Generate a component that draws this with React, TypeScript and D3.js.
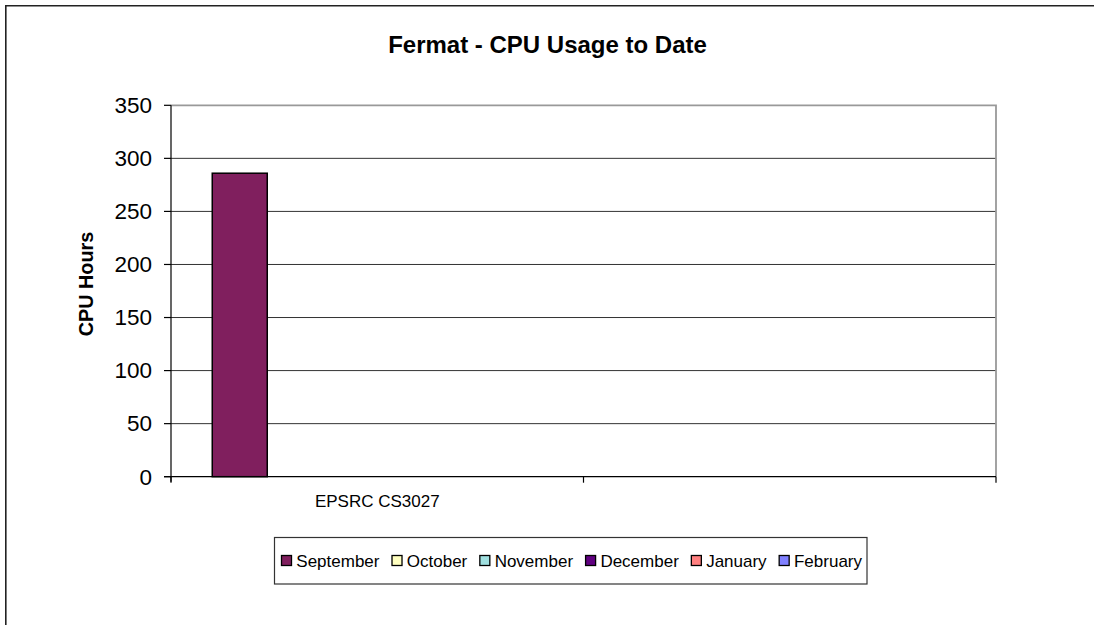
import React, { useEffect, useRef } from "react";
import * as d3 from "d3";

const categories = ["EPSRC CS3027", ""];
const seriesNames = ["September", "October", "November", "December", "January", "February"];
const seriesColors = ["#801F5E", "#FFFFC0", "#A0E0E0", "#600080", "#FF8080", "#8080FF"];
const september = [286, 0];
const october = [0, 0];
const november = [0, 0];
const december = [0, 0];
const january = [0, 0];
const february = [0, 0];
const seriesValues = [september, october, november, december, january, february];
const yTicks = [0, 50, 100, 150, 200, 250, 300, 350];

const W = 1094;
const H = 625;
const FONT = "'Liberation Sans', Arial, Helvetica, sans-serif";

export default function App() {
  const ref = useRef<SVGSVGElement | null>(null);

  useEffect(() => {
    const svg = d3.select(ref.current);
    svg.selectAll("*").remove();

    // outer chart border (continues off page right/bottom)
    svg.append("path").attr("d", `M5.8,${H + 10}V5.8H${W + 10}`)
      .attr("fill", "none").attr("stroke", "#222").attr("stroke-width", 1.6);

    const left = 171, right = 996, top = 105.3, bottom = 476.7;
    const y = d3.scaleLinear().domain([0, 350]).range([bottom, top]);
    const x = d3.scaleBand<string>().domain(categories.map((c, i) => i + "")).range([left, right]).paddingInner(0).paddingOuter(0);
    const bw = x.bandwidth() / (seriesNames.length + 1.5);

    // gridlines
    svg.append("g").selectAll("line").data(yTicks.filter((t) => t > 0 && t < 350)).join("line")
      .attr("x1", left).attr("x2", right).attr("y1", (d) => y(d)).attr("y2", (d) => y(d))
      .attr("stroke", "#333").attr("stroke-width", 1);

    // plot area border top/right
    svg.append("path").attr("d", `M${left},${top}H${right}V${bottom}`)
      .attr("fill", "none").attr("stroke", "#999").attr("stroke-width", 1.8);

    // bars
    seriesValues.forEach((vals, si) => {
      svg.append("g").selectAll("rect").data(vals.map((v, ci) => ({ v, ci }))).join("rect")
        .filter((d) => d.v > 0)
        .attr("x", (d) => (x(d.ci + "") as number) + 0.75 * bw + si * bw)
        .attr("width", bw)
        .attr("y", (d) => y(d.v))
        .attr("height", (d) => y(0) - y(d.v))
        .attr("fill", seriesColors[si]).attr("stroke", "#000").attr("stroke-width", 1.5);
    });

    // axes
    svg.append("line").attr("x1", left).attr("x2", left).attr("y1", top).attr("y2", bottom + 5)
      .attr("stroke", "#000").attr("stroke-width", 1.2);
    svg.append("line").attr("x1", left - 7).attr("x2", right).attr("y1", bottom).attr("y2", bottom)
      .attr("stroke", "#000").attr("stroke-width", 1.2);
    svg.append("g").selectAll("line").data(yTicks).join("line")
      .attr("x1", left - 7).attr("x2", left).attr("y1", (d) => y(d)).attr("y2", (d) => y(d))
      .attr("stroke", "#000").attr("stroke-width", 1.2);
    const bounds = categories.map((_, i) => x(i + "") as number).concat([right]);
    svg.append("g").selectAll("line").data(bounds).join("line")
      .attr("x1", (d) => d).attr("x2", (d) => d).attr("y1", bottom).attr("y2", bottom + 6)
      .attr("stroke", "#000").attr("stroke-width", 1.2);

    svg.append("g").selectAll("text").data(yTicks).join("text")
      .attr("x", 152).attr("y", (d) => y(d) + 7.8)
      .attr("text-anchor", "end").attr("font-family", FONT).attr("font-size", 22.5)
      .text((d) => d);

    svg.append("g").selectAll("text").data(categories.map((c, i) => ({ c, i }))).join("text")
      .attr("x", (d) => (x(d.i + "") as number) + x.bandwidth() / 2).attr("y", 507.3)
      .attr("text-anchor", "middle").attr("font-family", FONT).attr("font-size", 17)
      .text((d) => d.c);

    // title
    svg.append("text").attr("x", 547.5).attr("y", 53.3).attr("text-anchor", "middle")
      .attr("font-family", FONT).attr("font-size", 24).attr("font-weight", "bold")
      .text("Fermat - CPU Usage to Date");

    // y label
    svg.append("text").attr("transform", "translate(93.3,284) rotate(-90)").attr("text-anchor", "middle")
      .attr("font-family", FONT).attr("font-size", 19.8).attr("font-weight", "bold")
      .text("CPU Hours");

    // legend
    svg.append("rect").attr("x", 274.5).attr("y", 537.5).attr("width", 592.5).attr("height", 46.5)
      .attr("fill", "white").attr("stroke", "#333").attr("stroke-width", 1.2);
    const lg = svg.append("g");
    const texts = seriesNames.map((n) =>
      lg.append("text").attr("font-family", FONT).attr("font-size", 17).attr("y", 567.3).text(n)
    );
    const widths = texts.map((t) => (t.node() as SVGTextElement).getComputedTextLength());
    const sw = 11, sgap = 4.3;
    const startX = 281, endX = 862;
    const total = widths.reduce((a, b) => a + b, 0) + seriesNames.length * (sw + sgap);
    const gap = (endX - startX - total) / (seriesNames.length - 1);
    let cx = startX;
    seriesNames.forEach((n, i) => {
      lg.append("rect").attr("x", cx + 0.5).attr("y", 555.5).attr("width", sw - 1).attr("height", sw - 1)
        .attr("fill", seriesColors[i]).attr("stroke", "#000").attr("stroke-width", 1.3);
      texts[i].attr("x", cx + sw + sgap);
      cx += sw + sgap + widths[i] + gap;
    });
  }, []);

  return (
    <svg ref={ref} width={W} height={H} style={{ position: "absolute", left: 0, top: 0, background: "white" }} />
  );
}
